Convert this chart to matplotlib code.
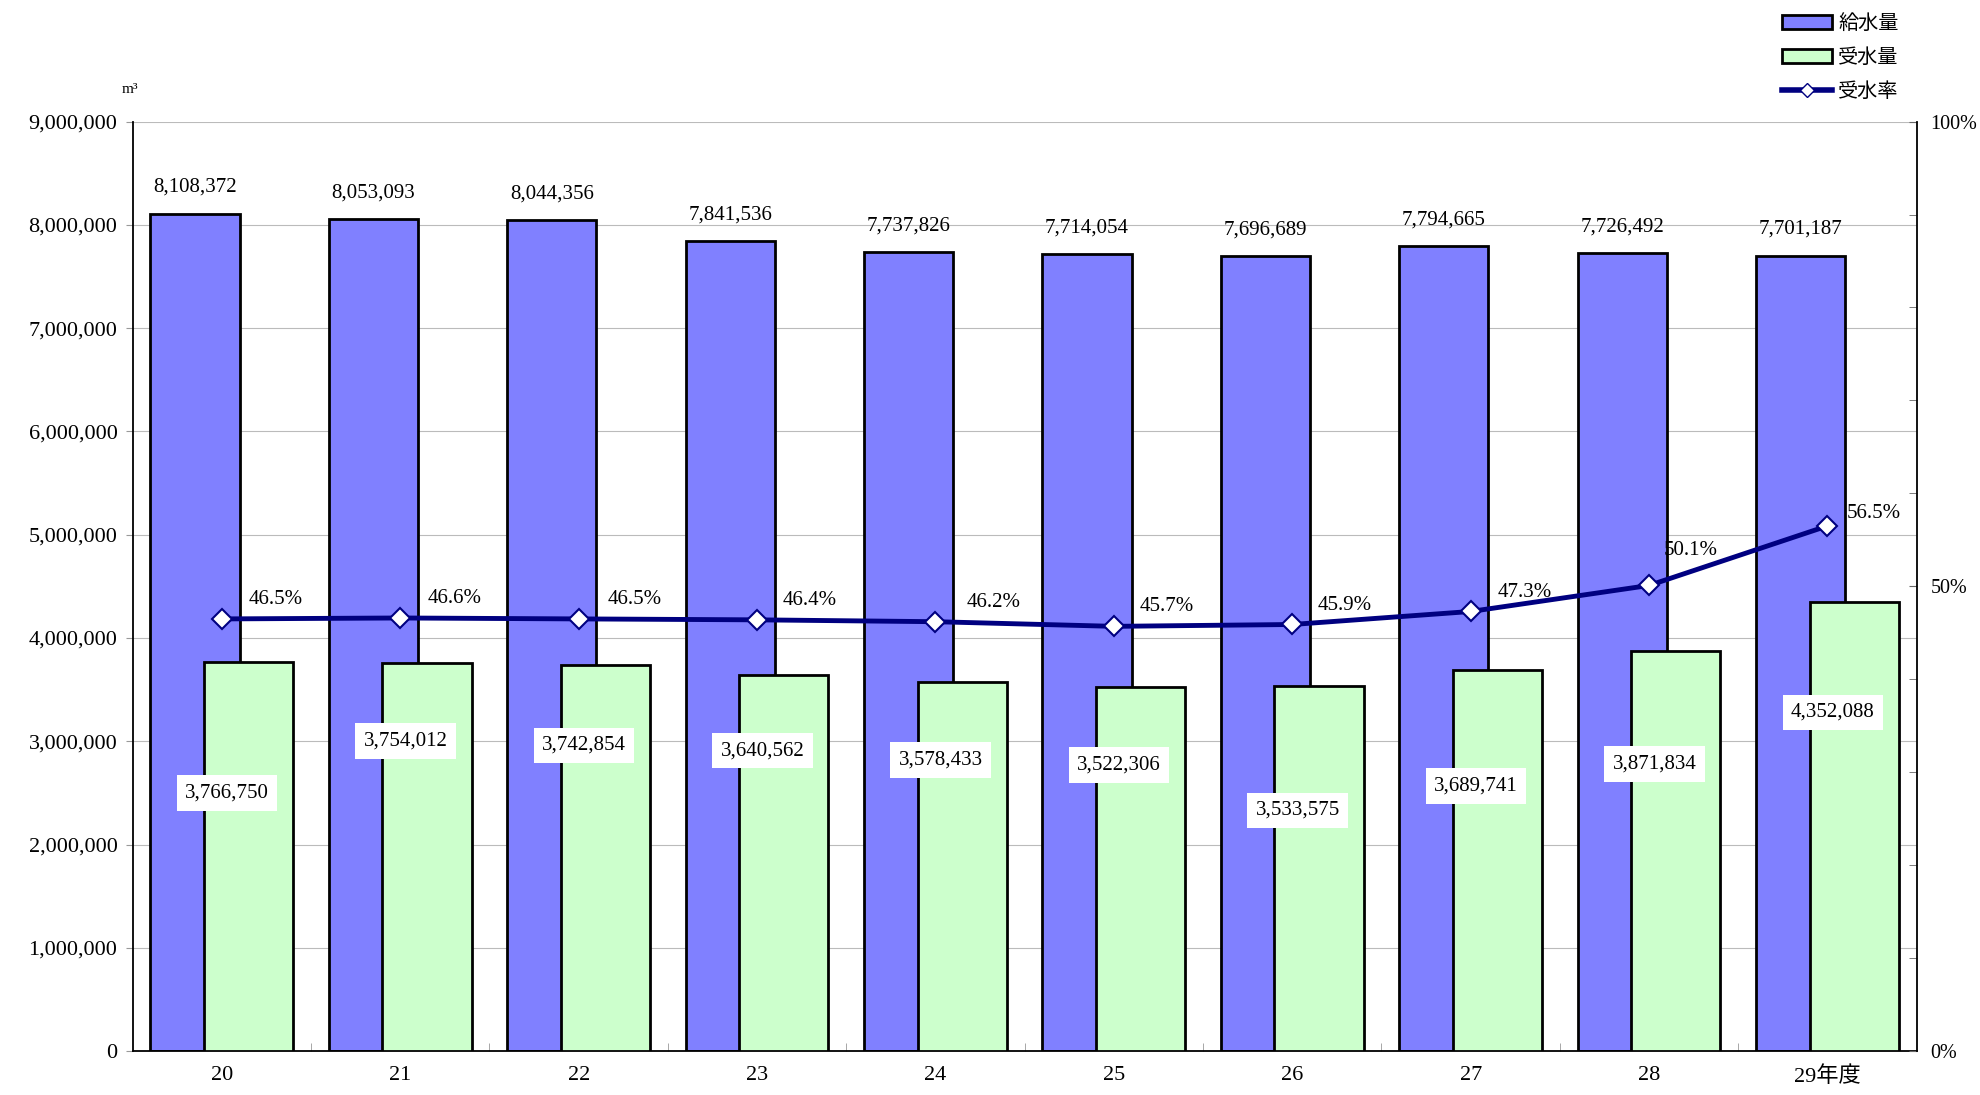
import numpy as np
import matplotlib
matplotlib.use('Agg')
import matplotlib.pyplot as plt
from matplotlib.patches import Patch
from matplotlib.lines import Line2D
from matplotlib.ticker import FuncFormatter, MultipleLocator, FixedLocator

years = ['20', '21', '22', '23', '24', '25', '26', '27', '28', '29年度']
supply = [8108372, 8053093, 8044356, 7841536, 7737826, 7714054, 7696689, 7794665, 7726492, 7701187]
received = [3766750, 3754012, 3742854, 3640562, 3578433, 3522306, 3533575, 3689741, 3871834, 4352088]
rate = [46.5, 46.6, 46.5, 46.4, 46.2, 45.7, 45.9, 47.3, 50.1, 56.5]

# where the white boxes for 受水量 sit (m3, layout only)
recv_label_y = [2.50e6, 3.00e6, 2.96e6, 2.91e6, 2.82e6, 2.77e6, 2.33e6, 2.57e6, 2.78e6, 3.28e6]
# offsets of the % labels (points)
rate_label_off = [(39, 14), (39, 14), (40, 14), (38, 14), (42, 14), (38, 14), (38, 14), (39, 14), (30, 25), (33, 9)]

plt.rcParams['font.family'] = ['Liberation Serif', 'Noto Sans CJK JP']
blue = '#8080FF'
green = '#CCFFCC'
navy = '#000080'

fig = plt.figure(figsize=(19.8, 10.95), dpi=100)
ax = fig.add_axes([0.067, 0.040, 0.901, 0.849])
x = np.arange(len(years))

ax.bar(x - 0.15, supply, 0.5, color=blue, edgecolor='black', lw=2, zorder=2)
ax.bar(x + 0.15, received, 0.5, color=green, edgecolor='black', lw=2, zorder=3)

for xi, v in zip(x, supply):
    ax.annotate(f'{v:,}', (xi - 0.15, v), xytext=(0, 12), textcoords='offset points',
                ha='center', va='bottom', fontsize=15)
for xi, v, ly in zip(x, received, recv_label_y):
    ax.text(xi + 0.03, ly, f'{v:,}', ha='center', va='center', fontsize=15, zorder=5,
            bbox=dict(facecolor='white', edgecolor='none', pad=6))

ax.set_xlim(-0.5, len(years) - 0.5)
ax.set_ylim(0, 9e6)
ax.yaxis.set_major_locator(MultipleLocator(1e6))
ax.yaxis.set_major_formatter(FuncFormatter(lambda v, p: f'{int(v):,}'))
ax.yaxis.grid(True, color='#BBBBBB', lw=0.8)
ax.set_axisbelow(True)
ax.tick_params(axis='y', direction='out', length=5, color='#999999', labelsize=16, pad=6)
ax.set_xticks(x)
ax.set_xticklabels(years)
ax.xaxis.set_minor_locator(FixedLocator(np.arange(0.5, len(years) - 1, 1)))
ax.tick_params(axis='x', which='major', length=0, labelsize=16, pad=11)
ax.tick_params(axis='x', which='minor', direction='in', length=6, color='#999999')
for s in ['top', 'right']:
    ax.spines[s].set_visible(False)
for s in ['left', 'bottom']:
    ax.spines[s].set_linewidth(1.3)

ax2 = ax.twinx()
ax2.plot(x, rate, color=navy, lw=3.5, marker='D', ms=10, mfc='white', mec=navy, mew=1.5, zorder=4)
for xi, r, off in zip(x, rate, rate_label_off):
    ax2.annotate(f'{r}%', (xi, r), xytext=off, textcoords='offset points',
                 ha='center', va='center', fontsize=15)
ax2.set_ylim(0, 100)
ax2.yaxis.set_major_locator(FixedLocator([0, 50, 100]))
ax2.yaxis.set_major_formatter(FuncFormatter(lambda v, p: f'{int(v)}%'))
ax2.yaxis.set_minor_locator(MultipleLocator(10))
ax2.tick_params(axis='y', which='both', direction='in', length=6, color='#666666', labelsize=14.5, pad=10)
for s in ['top', 'left', 'bottom']:
    ax2.spines[s].set_visible(False)
ax2.spines['right'].set_linewidth(1.3)

fig.text(0.0655, 0.915, 'm³', fontsize=11, ha='center')

handles = [Patch(facecolor=blue, edgecolor='black', lw=2),
           Patch(facecolor=green, edgecolor='black', lw=2),
           Line2D([], [], color=navy, lw=4, marker='D', ms=7, mfc='white', mec=navy)]
fig.legend(handles, ['給水量', '受水量', '受水率'], loc='upper right',
           bbox_to_anchor=(0.968, 1.005), frameon=False, handlelength=2.5,
           handletextpad=0.3, labelspacing=0.65, prop={'family': 'Noto Sans CJK JP', 'size': 14.5})

fig.savefig('out.png', dpi=100)
